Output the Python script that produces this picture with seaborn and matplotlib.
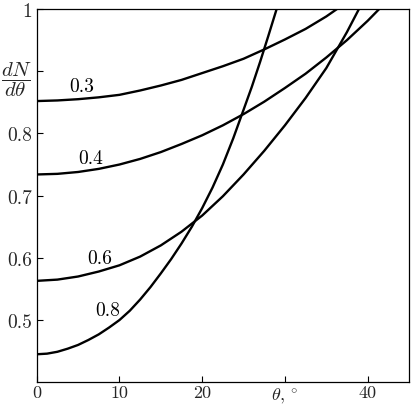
import numpy as np
import pandas as pd
import matplotlib
matplotlib.use("Agg")
import matplotlib.pyplot as plt
import seaborn as sns

# Data
theta_03 = [0, 2.5, 5, 7.5, 10, 12.5, 15, 17.5, 20, 22.5, 25, 27.5, 30, 32.5, 35, 36.3]
dn_03 = [0.852, 0.853, 0.855, 0.858, 0.862, 0.869, 0.877, 0.886, 0.897, 0.908,
         0.920, 0.935, 0.951, 0.968, 0.988, 1.0]

theta_04 = [0, 2.5, 5, 7.5, 10, 12.5, 15, 17.5, 20, 22.5, 25, 27.5, 30, 32.5, 35, 37.5, 40, 41.4]
dn_04 = [0.734, 0.735, 0.738, 0.743, 0.750, 0.759, 0.770, 0.783, 0.797, 0.813,
         0.831, 0.851, 0.873, 0.896, 0.922, 0.950, 0.981, 1.0]

theta_06 = [0, 2.5, 5, 7.5, 10, 12.5, 15, 17.5, 20, 22.5, 25, 27.5, 30, 32.5, 35, 37.5, 38.95]
dn_06 = [0.563, 0.565, 0.570, 0.578, 0.588, 0.602, 0.620, 0.642, 0.668, 0.699,
         0.734, 0.772, 0.813, 0.857, 0.905, 0.963, 1.0]

theta_08 = [0, 1.25, 2.5, 3.75, 5, 6.25, 7.5, 8.75, 10, 11.25, 12.5, 13.75, 15,
            16.25, 17.5, 18.75, 20, 21.25, 22.5, 23.75, 25, 26, 27, 28, 29]
dn_08 = [0.445, 0.446, 0.449, 0.454, 0.460, 0.468, 0.477, 0.488, 0.500, 0.515,
         0.533, 0.553, 0.575, 0.598, 0.623, 0.650, 0.680, 0.713, 0.750, 0.792,
         0.838, 0.875, 0.915, 0.957, 1.0]

curve_labels = ["0.3", "0.4", "0.6", "0.8"]
label_pos_theta = [5.5, 6.55, 7.6, 8.55]
label_pos_dn = [0.876, 0.761, 0.599, 0.516]

x_ticks = [0, 10, 20, 30, 40]
x_ticklabels = ["0", "10", "20", r"$\theta,{}^\circ$", "40"]
y_ticks = [0.5, 0.6, 0.7, 0.8, 0.9, 1.0]
y_ticklabels = ["0.5", "0.6", "0.7", "0.8", r"$\dfrac{dN}{d\theta}$", "1"]

frames = []
for lab, th, dn in zip(curve_labels, [theta_03, theta_04, theta_06, theta_08],
                       [dn_03, dn_04, dn_06, dn_08]):
    frames.append(pd.DataFrame({"theta": th, "dN": dn, "curve": lab}))
df = pd.concat(frames, ignore_index=True)

sns.set_style("ticks")
plt.rcParams["font.family"] = ["cmr10", "DejaVu Serif"]
plt.rcParams["mathtext.fontset"] = "cm"
plt.rcParams["axes.formatter.use_mathtext"] = True

fig = plt.figure(figsize=(4.14, 4.06), dpi=100)
ax = fig.add_axes([0.0887, 0.056, 0.8993, 0.9194])

sns.lineplot(data=df, x="theta", y="dN", hue="curve", units="curve",
             estimator=None, sort=False,
             palette={c: "black" for c in curve_labels},
             linewidth=1.7, legend=False, ax=ax)
for ln in ax.lines:
    ln.set_solid_joinstyle("round")

for lab, tx, ty in zip(curve_labels, label_pos_theta, label_pos_dn):
    ax.text(tx, ty, lab, fontsize=14, ha="center", va="center", color="black")

ax.set_xlim(0, 45)
ax.set_ylim(0.4, 1.0)
ax.set_xticks(x_ticks)
ax.set_xticklabels(x_ticklabels, fontsize=13)
ax.set_yticks(y_ticks)
ax.set_yticklabels(y_ticklabels, fontsize=14)
ax.tick_params(axis="x", pad=2)
ax.tick_params(direction="in", length=4, width=0.8, color="black")
for lbl in ax.get_yticklabels():
    if "frac" in lbl.get_text():
        lbl.set_fontsize(15)
ax.set_xlabel("")
ax.set_ylabel("")
for s in ax.spines.values():
    s.set_visible(True)
    s.set_linewidth(0.9)
    s.set_color("black")

fig.savefig("out.png", dpi=100)
